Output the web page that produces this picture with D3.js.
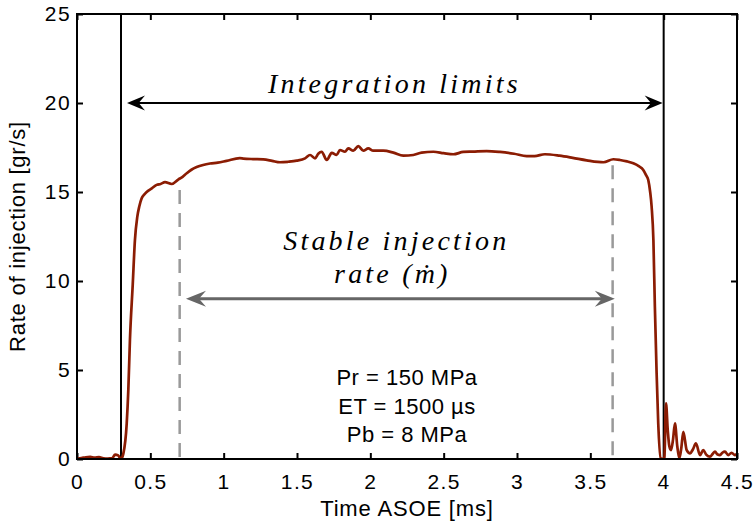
<!DOCTYPE html>
<html>
<head>
<meta charset="utf-8">
<script src="https://cdn.jsdelivr.net/npm/d3@7"></script>
<style>
  body { margin: 0; background: #fff; }
  svg text { font-family: "Liberation Sans", Arial, sans-serif; }
  .latex { font-family: "Liberation Serif", "DejaVu Serif", serif; font-style: italic; }
</style>
</head>
<body>
<div id="chart"></div>
<script>
// injection rate trace
const timeMs = [0, 0.03, 0.06, 0.09, 0.12, 0.15, 0.18, 0.21, 0.24, 0.26, 0.28, 0.3,
  0.316, 0.339, 0.35, 0.361, 0.38, 0.395, 0.411, 0.425, 0.441, 0.458, 0.475, 0.51, 0.543,
  0.57, 0.6, 0.645, 0.69, 0.72, 0.748, 0.78, 0.816, 0.86, 0.907, 0.96, 1.02, 1.11, 1.134,
  1.2, 1.27, 1.33, 1.384, 1.44, 1.498, 1.555, 1.589, 1.623, 1.645, 1.668, 1.703, 1.737,
  1.77, 1.793, 1.827, 1.85, 1.884, 1.918, 1.952, 1.986, 2.02, 2.088, 2.157, 2.225, 2.293,
  2.35, 2.43, 2.5, 2.566, 2.634, 2.7, 2.793, 2.884, 2.98, 3.066, 3.12, 3.19, 3.29, 3.38,
  3.475, 3.59, 3.657, 3.702, 3.75, 3.793, 3.83, 3.861, 3.88, 3.895, 3.908, 3.918, 3.93,
  3.94, 3.952, 3.963, 3.98, 3.995, 4.005, 4.016, 4.028, 4.039, 4.05, 4.064, 4.077, 4.093,
  4.107, 4.12, 4.134, 4.157, 4.18, 4.2, 4.22, 4.248, 4.27, 4.29, 4.316, 4.335, 4.35,
  4.368, 4.384, 4.4, 4.418, 4.44, 4.463, 4.486, 4.5];
const rate = [0.02, 0.05, 0.1, 0.12, 0.08, 0.1, 0.03, 0.02, 0.05, 0.25, 0.2, 0.0,
  0.3, 2.0, 3.9, 6.7, 9.8, 12.3, 13.6, 14.2, 14.65, 14.85, 15.0, 15.2, 15.4,
  15.45, 15.55, 15.45, 15.7, 15.85, 16.05, 16.25, 16.4, 16.52, 16.6, 16.65, 16.75, 16.9, 16.88,
  16.85, 16.83, 16.75, 16.67, 16.7, 16.76, 16.89, 17.08, 16.89, 17.15, 17.26, 16.8, 17.2,
  17.08, 17.36, 17.26, 17.45, 17.32, 17.58, 17.32, 17.45, 17.32, 17.32, 17.21, 17.04, 17.08,
  17.21, 17.26, 17.18, 17.12, 17.25, 17.27, 17.3, 17.25, 17.15, 17.02, 17.02, 17.12, 17.04, 16.92,
  16.78, 16.67, 16.84, 16.8, 16.72, 16.61, 16.45, 16.24, 15.95, 15.67, 15.0, 14.17, 12.3,
  8.56, 4.81, 2.0, 0.04, 0.0, 0.1, 3.13, 1.6, 0.7, 0.5, 1.1, 2.0, 0.7,
  0.04, 0.6, 1.53, 0.5, 0.32, 0.55, 0.88, 0.22, 0.5, 0.25, 0.13, 0.3, 0.41,
  0.25, 0.22, 0.35, 0.41, 0.22, 0.35, 0.22, 0.3];

const xTicks = [0, 0.5, 1, 1.5, 2, 2.5, 3, 3.5, 4, 4.5];
const yTicks = [0, 5, 10, 15, 20, 25];
const integrationLimits = [0.3, 4.0];
const stableLimits = [0.7, 3.652];
const stableTops = [15.45, 16.84];
const integrationArrowY = 20;
const stableArrow = [0.743, 3.667, 9.0];
const conditions = ['Pr = 150 MPa', 'ET = 1500 \u00b5s', 'Pb = 8 MPa'];

const width = 753, height = 530;
const margin = { top: 14, right: 16, bottom: 71, left: 77 };
const innerW = width - margin.left - margin.right;
const innerH = height - margin.top - margin.bottom;

const svg = d3.select('#chart').append('svg')
  .attr('width', width)
  .attr('height', height);

const g = svg.append('g')
  .attr('transform', `translate(${margin.left},${margin.top})`);

const x = d3.scaleLinear().domain([0, 4.5]).range([0, innerW]);
const y = d3.scaleLinear().domain([0, 25]).range([innerH, 0]);

g.append('clipPath').attr('id', 'plot-clip')
  .append('rect').attr('width', innerW).attr('height', innerH);

// ticks, inward, mirrored on all four sides
const tickLen = 6;
const tickFmt = d => d3.format('')(d);
g.append('g').attr('transform', `translate(0,${innerH})`)
  .call(d3.axisBottom(x).tickValues(xTicks).tickSize(-tickLen).tickPadding(15).tickFormat(tickFmt));
g.append('g')
  .call(d3.axisTop(x).tickValues(xTicks).tickSize(-tickLen).tickFormat(''));
g.append('g')
  .call(d3.axisLeft(y).tickValues(yTicks).tickSize(-tickLen).tickPadding(6).tickFormat(tickFmt));
g.append('g').attr('transform', `translate(${innerW},0)`)
  .call(d3.axisRight(y).tickValues(yTicks).tickSize(-tickLen).tickFormat(''));

g.selectAll('.domain').remove();
g.selectAll('.tick line').attr('stroke', '#000').attr('stroke-width', 2);
g.selectAll('.tick text').attr('font-size', 21).attr('letter-spacing', 1.4).attr('fill', '#000');

// stable-rate dashed markers
g.selectAll('.stable-line')
  .data(stableLimits)
  .enter().append('line')
    .attr('class', 'stable-line')
    .attr('x1', d => x(d)).attr('x2', d => x(d))
    .attr('y1', (d, i) => y(stableTops[i]) + 6)
    .attr('y2', y(0))
    .attr('stroke', '#999')
    .attr('stroke-width', 2.5)
    .attr('stroke-dasharray', '14,9');

// integration limits
g.selectAll('.limit-line')
  .data(integrationLimits)
  .enter().append('line')
    .attr('class', 'limit-line')
    .attr('x1', d => x(d)).attr('x2', d => x(d))
    .attr('y1', 0).attr('y2', innerH)
    .attr('stroke', '#000')
    .attr('stroke-width', 2);

// curve
const line = d3.line()
  .x((d, i) => x(timeMs[i]))
  .y(d => y(d))
  .curve(d3.curveMonotoneX);

g.append('path')
  .datum(rate)
  .attr('clip-path', 'url(#plot-clip)')
  .attr('fill', 'none')
  .attr('stroke', '#8b1c03')
  .attr('stroke-width', 2.7)
  .attr('stroke-linejoin', 'round')
  .attr('d', line);

// frame
g.append('rect')
  .attr('width', innerW).attr('height', innerH)
  .attr('fill', 'none').attr('stroke', '#000').attr('stroke-width', 2);

// double-headed arrows
function arrow(x0, x1, yy, color, len, half, sw) {
  g.append('line')
    .attr('x1', x0 + len * 0.6).attr('x2', x1 - len * 0.6)
    .attr('y1', yy).attr('y2', yy)
    .attr('stroke', color).attr('stroke-width', sw);
  const head = (tip, dir) => `M${tip},${yy} L${tip + dir * len},${yy - half} L${tip + dir * len * 0.65},${yy} L${tip + dir * len},${yy + half} Z`;
  g.append('path').attr('d', head(x0, 1)).attr('fill', color);
  g.append('path').attr('d', head(x1, -1)).attr('fill', color);
}
arrow(x(integrationLimits[0]) + 6, x(integrationLimits[1]) - 1, y(integrationArrowY), '#000', 18, 7.5, 2.2);
arrow(x(stableArrow[0]), x(stableArrow[1]), y(stableArrow[2]), '#666', 20, 8, 3);

// annotations
const cx = (x(integrationLimits[0]) + x(integrationLimits[1])) / 2;
const latex = (txt, xx, yy) => g.append('text').attr('class', 'latex')
  .attr('x', xx).attr('y', yy)
  .attr('text-anchor', 'middle')
  .attr('font-size', 28).attr('letter-spacing', 3.2)
  .text(txt);
latex('Integration limits', cx + 2, 79);
latex('Stable injection', cx + 4, 236);
latex('rate (\u1e41)', cx, 269);

g.selectAll('.cond')
  .data(conditions)
  .enter().append('text')
    .attr('class', 'cond')
    .attr('x', x(2.25))
    .attr('y', (d, i) => 371 + i * 28.5)
    .attr('text-anchor', 'middle')
    .attr('font-size', 22)
    .attr('letter-spacing', 0.5)
    .text(d => d);

// axis titles
svg.append('text')
  .attr('x', margin.left + innerW / 2).attr('y', 516)
  .attr('text-anchor', 'middle')
  .attr('font-size', 22)
  .attr('letter-spacing', 0.85)
  .text('Time ASOE [ms]');

svg.append('text')
  .attr('transform', `translate(25,${margin.top + innerH / 2}) rotate(-90)`)
  .attr('text-anchor', 'middle')
  .attr('font-size', 22)
  .attr('letter-spacing', 0.75)
  .text('Rate of injection [gr/s]');
</script>
</body>
</html>
